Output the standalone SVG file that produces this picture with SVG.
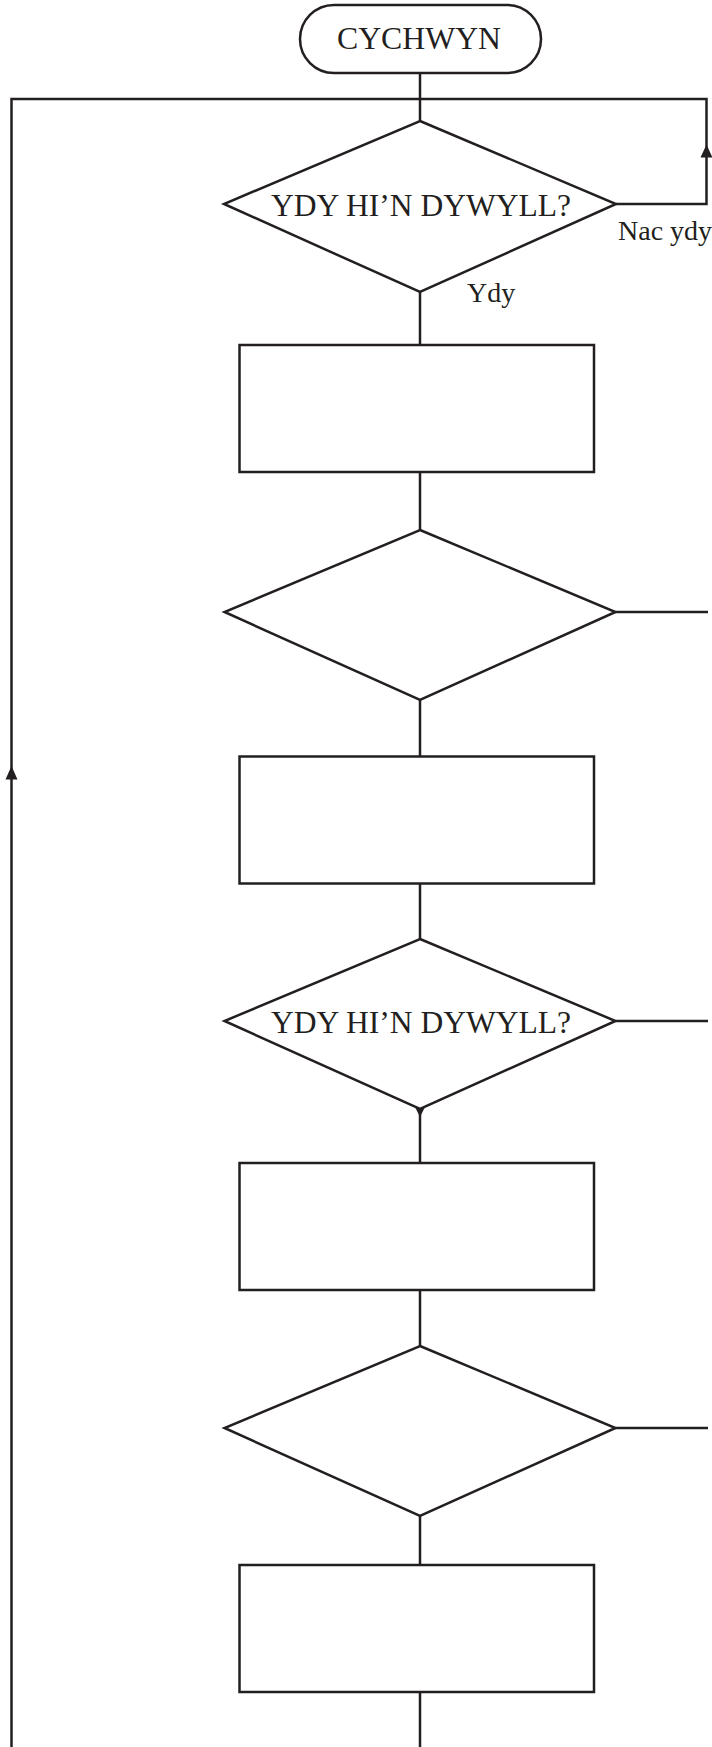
<svg xmlns="http://www.w3.org/2000/svg" width="712" height="1747" viewBox="0 0 712 1747">
<style>
.s{fill:#fff;stroke:#231f20;stroke-width:2.5}
.c{fill:none;stroke:#231f20;stroke-width:2.5}
text{fill:#231f20}
.big{font-size:32px;text-anchor:middle}
.lab{font-size:28px}
.ah{fill:#231f20}
</style>
<rect width="712" height="1747" fill="#fff"/>
<g id="connectors">
<path class="c" d="M420,73 V121"/>
<path class="c" d="M11.5,1747 V99 H706.5 V204 H616"/>
<path class="c" d="M420,292 V345"/>
<path class="c" d="M420,472 V530"/>
<path class="c" d="M615.5,612 H708"/>
<path class="c" d="M420,700 V756.5"/>
<path class="c" d="M420,883.5 V939"/>
<path class="c" d="M615.5,1021 H708"/>
<path class="c" d="M420,1109 V1163"/>
<path class="c" d="M420,1290 V1346"/>
<path class="c" d="M615.5,1428 H708"/>
<path class="c" d="M420,1516 V1565"/>
<path class="c" d="M420,1692 V1747"/>
<polygon class="ah" points="11.5,766 5.5,779.5 17.5,779.5"/>
<polygon class="ah" points="706.5,144.5 700.5,157.5 712.5,157.5"/>
<polygon class="ah" points="415.5,1108 424.5,1108 420,1117"/>
<text class="lab" font-family="Liberation Serif, Times New Roman, serif" x="618" y="240">Nac ydy</text>
<text class="lab" font-family="Liberation Serif, Times New Roman, serif" x="467" y="302">Ydy</text>
</g>
<g id="start">
<rect class="s" x="300" y="5" width="241" height="68" rx="34" ry="34"/>
<text class="big" font-family="Liberation Serif, Times New Roman, serif" x="419" y="49" textLength="164" lengthAdjust="spacingAndGlyphs">CYCHWYN</text>
</g>
<g id="decision1">
<polygon class="s" points="420,121 616,204 420,292 224,204"/>
<text class="big" font-family="Liberation Serif, Times New Roman, serif" x="421" y="216" textLength="300" lengthAdjust="spacingAndGlyphs">YDY HI’N DYWYLL?</text>
</g>
<g id="process1">
<rect class="s" x="239.5" y="345" width="354.5" height="127"/>
</g>
<g id="decision2">
<polygon class="s" points="420,530 615.5,612 420,700 224.5,612"/>
</g>
<g id="process2">
<rect class="s" x="239.5" y="756.5" width="354.5" height="127"/>
</g>
<g id="decision3">
<polygon class="s" points="420,939 615.5,1021 420,1109 224.5,1021"/>
<text class="big" font-family="Liberation Serif, Times New Roman, serif" x="421" y="1033" textLength="300" lengthAdjust="spacingAndGlyphs">YDY HI’N DYWYLL?</text>
</g>
<g id="process3">
<rect class="s" x="239.5" y="1163" width="354.5" height="127"/>
</g>
<g id="decision4">
<polygon class="s" points="420,1346 615.5,1428 420,1516 224.5,1428"/>
</g>
<g id="process4">
<rect class="s" x="239.5" y="1565" width="354.5" height="127"/>
</g>
</svg>
